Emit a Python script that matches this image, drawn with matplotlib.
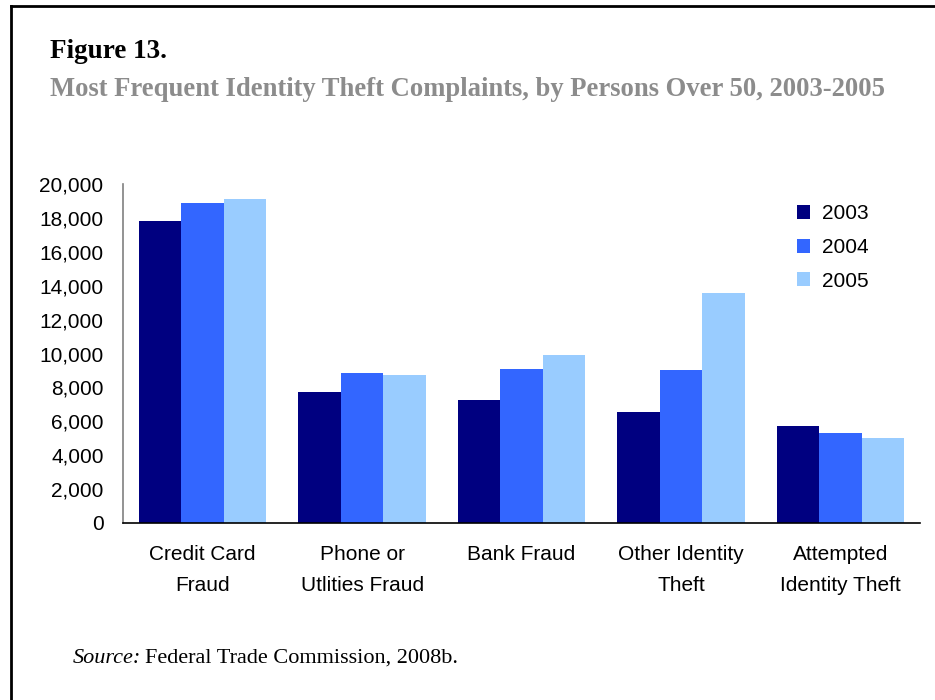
import numpy as np
import matplotlib.pyplot as plt
from matplotlib.lines import Line2D
from matplotlib.ticker import FuncFormatter

categories = ["Credit Card\nFraud", "Phone or\nUtlities Fraud", "Bank Fraud",
              "Other Identity\nTheft", "Attempted\nIdentity Theft"]
years = ["2003", "2004", "2005"]
complaints_2003 = [17800, 7700, 7250, 6550, 5700]
complaints_2004 = [18900, 8850, 9100, 9000, 5300]
complaints_2005 = [19100, 8750, 9900, 13550, 5000]
colors = ["#000080", "#3366FF", "#99CCFF"]

fig = plt.figure(figsize=(9.35, 7), dpi=100)
ax = fig.add_axes([123 / 935, 1 - 523 / 700, 797 / 935, 339 / 700])

x = np.arange(len(categories))
w = 0.8 / 3
for i, (vals, year) in enumerate(zip([complaints_2003, complaints_2004, complaints_2005], years)):
    ax.bar(x + (i - 1) * w, vals, width=w, color=colors[i], label=year, linewidth=0)

ax.set_xlim(-0.5, len(categories) - 0.5)
ax.set_ylim(0, 20000)
ax.set_yticks(range(0, 20001, 2000))
ax.yaxis.set_major_formatter(FuncFormatter(lambda v, p: f"{int(v):,}"))
ax.set_xticks(x)
ax.set_xticklabels(categories, linespacing=1.8)
ax.tick_params(axis="both", length=0, labelsize=15, labelfontfamily="Liberation Sans")
ax.tick_params(axis="x", pad=16)
ax.tick_params(axis="y", pad=14)

for side in ["top", "right"]:
    ax.spines[side].set_visible(False)
ax.spines["left"].set_color("#808080")
ax.spines["left"].set_linewidth(1.2)
ax.spines["bottom"].set_color("black")
ax.spines["bottom"].set_linewidth(1.2)

leg = ax.legend(loc="upper left", bbox_to_anchor=(0.822, 0.995), frameon=False,
                prop={"family": "Liberation Sans", "size": 15},
                handlelength=0.65, handleheight=0.65, handletextpad=0.55,
                labelspacing=0.7)

# page frame (left and top rules)
fig.add_artist(Line2D([11 / 935, 11 / 935], [0, 1 - 6 / 700], color="black", lw=2))
fig.add_artist(Line2D([11 / 935, 1], [1 - 6 / 700, 1 - 6 / 700], color="black", lw=2))

fig.text(50 / 935, 1 - 52 / 700, "Figure 13.", fontfamily="Liberation Serif",
         fontweight="bold", fontsize=19.5, va="center", ha="left")
fig.text(50 / 935, 1 - 89 / 700,
         "Most Frequent Identity Theft Complaints, by Persons Over 50, 2003-2005",
         fontfamily="Liberation Serif", fontweight="bold", fontsize=19.2,
         color="#8C8C8C", va="center", ha="left")
fig.text(73 / 935, 1 - 663 / 700, "Source:", fontfamily="Liberation Serif",
         fontstyle="italic", fontsize=16, va="baseline", ha="left")
fig.text(145 / 935, 1 - 663 / 700, "Federal Trade Commission, 2008b.",
         fontfamily="Liberation Serif", fontsize=16, va="baseline", ha="left")

fig.savefig("out.png", dpi=100)
